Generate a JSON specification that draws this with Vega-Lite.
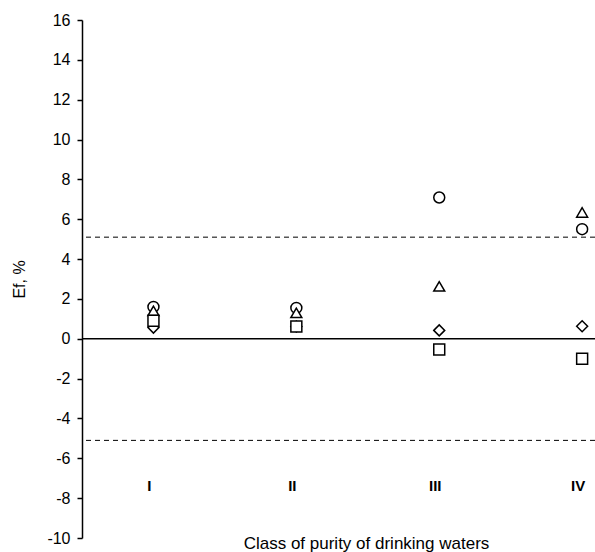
{
  "$schema": "https://vega.github.io/schema/vega-lite/v6.json",
  "autosize": {"type": "none"},
  "padding": {"left": 82, "top": 20, "right": 0, "bottom": 14},
  "width": 513,
  "height": 518,
  "background": "white",
  "config": {
    "view": {"stroke": null},
    "font": "Liberation Sans",
    "axisY": {
      "labelOverlap": false,
      "grid": false,
      "domainColor": "black", "domainWidth": 1.5,
      "tickColor": "black", "tickWidth": 1.5, "tickSize": 5,
      "labelFont": "Liberation Sans", "labelFontSize": 16, "labelColor": "black", "labelPadding": 7,
      "titleFont": "Liberation Sans", "titleFontSize": 16, "titleFontWeight": "normal", "titleColor": "#000000",
      "titlePadding": 19
    },
    "axisX": {
      "domain": false, "ticks": false, "labels": false, "grid": false,
      "titleFont": "Liberation Sans", "titleFontSize": 17, "titleFontWeight": "normal",
      "titleColor": "#000000", "titleX": 284, "titleY": 10, "titleBaseline": "alphabetic", "titleAnchor": "middle"
    }
  },
  "datasets": {
    "points": [
      {"cls": 1, "series": "D", "ef": 1.6},
      {"cls": 2, "series": "D", "ef": 1.55},
      {"cls": 3, "series": "D", "ef": 7.09},
      {"cls": 4, "series": "D", "ef": 5.5},
      {"cls": 1, "series": "C", "ef": 1.4},
      {"cls": 2, "series": "C", "ef": 1.3},
      {"cls": 3, "series": "C", "ef": 2.63},
      {"cls": 4, "series": "C", "ef": 6.34},
      {"cls": 1, "series": "A", "ef": 0.56},
      {"cls": 2, "series": "A", "ef": 0.62},
      {"cls": 3, "series": "A", "ef": 0.42},
      {"cls": 4, "series": "A", "ef": 0.63},
      {"cls": 1, "series": "B", "ef": 0.9},
      {"cls": 2, "series": "B", "ef": 0.62},
      {"cls": 3, "series": "B", "ef": -0.54},
      {"cls": 4, "series": "B", "ef": -1.0}
    ],
    "limits": [
      {"v": 5.1},
      {"v": -5.1}
    ],
    "classes": [
      {"cls": 1, "label": "I", "ef": -7.4},
      {"cls": 2, "label": "II", "ef": -7.4},
      {"cls": 3, "label": "III", "ef": -7.4},
      {"cls": 4, "label": "IV", "ef": -7.4}
    ]
  },
  "layer": [
    {
      "data": {"name": "limits"},
      "mark": {"type": "rule", "color": "black", "strokeWidth": 1, "strokeDash": [5, 4]},
      "encoding": {
        "y": {
          "field": "v", "type": "quantitative",
          "scale": {"domain": [-10, 16], "nice": false, "zero": false},
          "axis": {"title": "Ef, %", "values": [-10, -8, -6, -4, -2, 0, 2, 4, 6, 8, 10, 12, 14, 16], "labelOverlap": false, "labelExpr": "replace(datum.label, '\u2212', '-')"}
        }
      }
    },
    {
      "data": {"values": [{"v": 0}]},
      "mark": {"type": "rule", "color": "black", "strokeWidth": 1.5},
      "encoding": {
        "y": {"field": "v", "type": "quantitative", "axis": {"title": "Ef, %", "values": [-10, -8, -6, -4, -2, 0, 2, 4, 6, 8, 10, 12, 14, 16], "labelOverlap": false, "labelExpr": "replace(datum.label, '\u2212', '-')"}}
      }
    },
    {
      "data": {"name": "classes"},
      "mark": {"type": "text", "fontWeight": "bold", "fontSize": 15, "color": "black", "dx": -4, "font": "Liberation Sans"},
      "encoding": {
        "x": {
          "field": "cls", "type": "quantitative",
          "scale": {"domain": [0.5, 4.09], "nice": false, "zero": false},
          "axis": {"title": "Class of purity of drinking waters"}
        },
        "y": {"field": "ef", "type": "quantitative", "axis": {"title": "Ef, %", "values": [-10, -8, -6, -4, -2, 0, 2, 4, 6, 8, 10, 12, 14, 16], "labelOverlap": false, "labelExpr": "replace(datum.label, '\u2212', '-')"}},
        "text": {"field": "label"}
      }
    },
    {
      "data": {"name": "points"},
      "mark": {"type": "point", "filled": true, "fill": "white", "stroke": "black", "strokeWidth": 1.5, "size": 120, "opacity": 1},
      "encoding": {
        "x": {"field": "cls", "type": "quantitative", "axis": {"title": "Class of purity of drinking waters"}},
        "y": {"field": "ef", "type": "quantitative", "axis": {"title": "Ef, %", "values": [-10, -8, -6, -4, -2, 0, 2, 4, 6, 8, 10, 12, 14, 16], "labelOverlap": false, "labelExpr": "replace(datum.label, '\u2212', '-')"}},
        "shape": {
          "field": "series", "type": "nominal",
          "scale": {"domain": ["A", "B", "C", "D"], "range": ["diamond", "square", "triangle-up", "circle"]},
          "legend": null
        }
      }
    }
  ]
}
